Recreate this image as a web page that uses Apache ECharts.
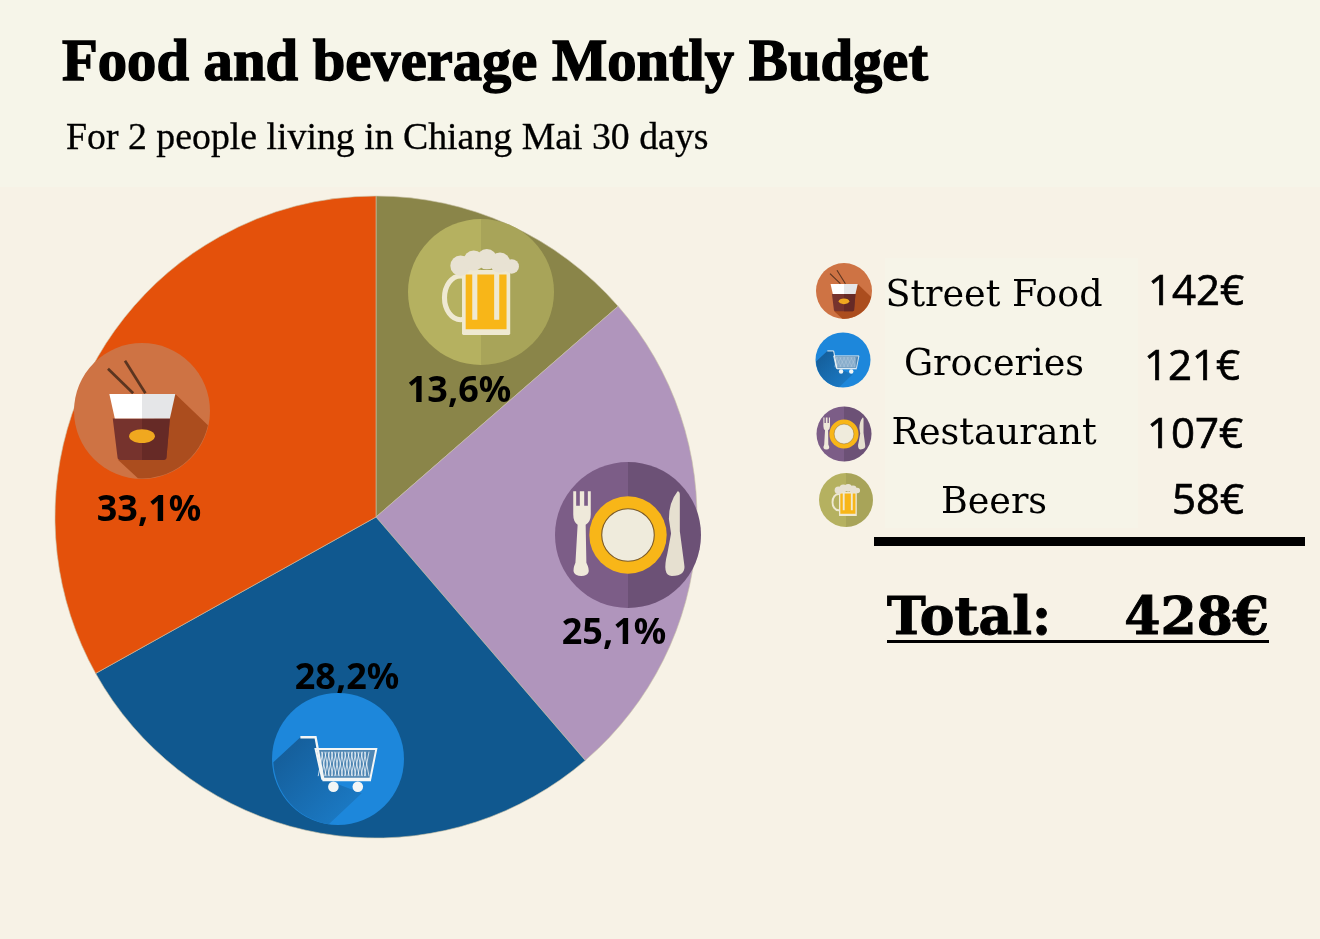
<!DOCTYPE html>
<html><head><meta charset="utf-8">
<style>html,body{margin:0;padding:0;background:#F7F2E6}#c{width:1320px;height:939px}</style>
<script src="https://cdn.jsdelivr.net/npm/echarts@6/dist/echarts.min.js"></script>
</head><body><div id="c"></div>
<script>
const titleText = 'Food and beverage Montly Budget';
const subtitleText = 'For 2 people living in Chiang Mai 30 days';
const categories = ['Beers', 'Restaurant', 'Groceries', 'Street Food'];
const shares = [13.6, 25.1, 28.2, 33.1];
const shareLabels = ['13,6%', '25,1%', '28,2%', '33,1%'];
const sliceColors = ['#8A8549', '#B095BC', '#10588F', '#E4510B'];
const tableNames = ['Street Food', 'Groceries', 'Restaurant', 'Beers'];
const tableAmounts = ['142€', '121€', '107€', '58€'];
const totalName = 'Total:';
const totalAmount = '428€';

const labelAnchors = [[459, 392], [614, 634], [347, 679], [149, 511]];
const bigIcons = [['beer', 481, 292, 73], ['plate', 628, 535, 73], ['cart', 338, 759, 66], ['noodle', 142, 411, 68]];
const smallIcons = [['noodle', 844, 291, 28], ['cart', 843, 360, 27.5], ['plate', 844, 434, 27.5], ['beer', 846, 500, 27]];
const rowY = [297, 366, 435, 504];
const amountY = [293, 368, 436, 502];
const amountRight = [1244, 1240, 1243, 1244];

let shapeCount = 0;
const shapeCache = {};
const p = (d, fill) => {
  if (!shapeCache[d]) {
    shapeCache[d] = 'iconShape' + (shapeCount++);
    echarts.graphic.registerShape(shapeCache[d], echarts.graphic.extendPath(d));
  }
  return {type: shapeCache[d], style: {fill}};
};
const circ = (cx, cy, r, fill, style) => ({type: 'circle', shape: {cx, cy, r}, style: Object.assign({fill}, style || {})});
const half = (o) => p('M0 -100 A100 100 0 0 1 0 100 Z', 'rgba(0,0,0,' + o + ')');

function iconParts(kind) {
  if (kind === 'noodle') return [
    circ(0, 0, 100, '#CE7344'),
    p('M49 -25 L97 21 A100 100 0 0 1 -6 99 L-35 72 Z', '#AB4D1E'),
    {type: 'line', shape: {x1: -50, y1: -62, x2: -13, y2: -26}, style: {stroke: '#5B3520', lineWidth: 4}},
    {type: 'line', shape: {x1: -25, y1: -74, x2: 5, y2: -26}, style: {stroke: '#5B3520', lineWidth: 4}},
    p('M-43 11 L41 11 L36 68 Q36 72 31 72 L-31 72 Q-36 72 -36 68 Z', '#76332D'),
    p('M0 11 L41 11 L36 68 Q36 72 31 72 L0 72 Z', '#662A26'),
    p('M-48 -25 L0 -25 L0 11 L-40 11 Z', '#FFFFFF'),
    p('M0 -25 L49 -25 L41 11 L0 11 Z', '#E5E6E8'),
    {type: 'ellipse', shape: {cx: 0, cy: 37, rx: 19, ry: 10}, style: {fill: '#F0A81F'}}
  ];
  if (kind === 'beer') {
    const foam = [[-28, -36, 14], [-10, -43, 14], [8, -45, 14], [26, -40, 14], [42, -35, 10]];
    return [
      circ(0, 0, 100, '#B5B160'), half(0.07),
      {type: 'ellipse', shape: {cx: -28, cy: 8, rx: 22, ry: 30}, style: {fill: 'none', stroke: '#EFE9D2', lineWidth: 7}},
      {type: 'rect', shape: {x: -26, y: -30, width: 66, height: 89, r: 2}, style: {fill: '#EFE9D2'}},
      {type: 'rect', shape: {x: -21, y: -24, width: 56, height: 75}, style: {fill: '#F8B618'}},
      {type: 'rect', shape: {x: -12, y: -30, width: 7, height: 68}, style: {fill: '#EFE9D2'}},
      {type: 'rect', shape: {x: 18, y: -30, width: 7, height: 68}, style: {fill: '#EFE9D2'}}
    ].concat(foam.map(f => circ(f[0], f[1], f[2], '#E8E2D3')));
  }
  if (kind === 'plate') return [
    circ(0, 0, 100, '#7C5D87'), half(0.12),
    circ(0, 0, 53, '#F8B618'),
    circ(0, 0, 36, '#EFEBDC', {stroke: '#7A5A2A', lineWidth: 1.5}),
    p('M-75 -60 L-71 -60 L-71 -40 L-66 -40 L-66 -60 L-60 -60 L-60 -40 L-55 -40 L-55 -60 L-51 -60 L-51 -28 Q-51 -18 -58 -14 L-57 38 Q-48 56 -64 56 Q-80 56 -72 38 L-69 -14 Q-75 -18 -75 -28 Z', '#EFE9DA'),
    p('M68 -60 Q56 -45 56 -22 L59 -2 L54 25 Q46 56 60 56 Q80 56 77 40 L71 -5 L71 -55 Q71 -60 68 -60 Z', '#E6E0D0')
  ];
  const mesh = [];
  for (let i = -30; i <= 44; i += 5) {
    mesh.push({type: 'line', shape: {x1: i, y1: -11, x2: i + 7, y2: 26}, style: {stroke: '#FFFFFF', lineWidth: 1.1}});
    mesh.push({type: 'line', shape: {x1: i + 7, y1: -11, x2: i, y2: 26}, style: {stroke: '#FFFFFF', lineWidth: 1.1}});
  }
  const shade = p('M-57 -33 L-98 5 A100 100 0 0 0 -14 99 L36 52 L-22 30 L-34 -33 Z', '#1A6DB0');
  shade.style.fill = new echarts.graphic.LinearGradient(0, 0, 1, 1, [{offset: 0, color: '#145A94'}, {offset: 1, color: '#1C7ECB'}]);
  return [
    circ(0, 0, 100, '#1D87DB'),
    shade,
    p('M-34 -15 L58 -15 L49 30 L-24 30 Z', '#4F86B3')
  ].concat(mesh).concat([
    {type: 'polyline', shape: {points: [[-57, -33], [-34, -33], [-22, 32], [50, 32]]}, style: {fill: 'none', stroke: '#F3F6F6', lineWidth: 3.5}},
    {type: 'polygon', shape: {points: [[-34, -15], [58, -15], [49, 30], [-24, 30]]}, style: {fill: 'none', stroke: '#F3F6F6', lineWidth: 3}},
    circ(-7, 42, 8, '#F3F6F6'), circ(30, 42, 8, '#F3F6F6')
  ]);
}
const icon = ([kind, x, y, r]) => ({type: 'group', x, y, scaleX: r / 100, scaleY: r / 100, children: iconParts(kind)});
const txt = (x, y, text, font, align, strokeW) => ({type: 'text', x, y, style: {text, font, fill: '#000', stroke: strokeW ? '#000' : null, lineWidth: strokeW || 0, align, verticalAlign: 'middle'}});

const ROW_FONT = '36.5px "DejaVu Serif", serif';
const AMT_FONT = '42px "Open Sans", sans-serif';
const TOTAL_FONT = 'bold 52px "DejaVu Serif", serif';

const elements = [
  {type: 'rect', z: -10, shape: {x: 0, y: 0, width: 1320, height: 187}, style: {fill: '#F6F5E9'}},
  {type: 'rect', z: -10, shape: {x: 885, y: 258, width: 253, height: 270}, style: {fill: '#F6F4E8'}},
  ...bigIcons.map(icon),
  ...smallIcons.map(icon),
  ...tableNames.map((n, i) => txt(994, rowY[i], n, ROW_FONT, 'center')),
  ...tableAmounts.map((a, i) => txt(amountRight[i], amountY[i], a, AMT_FONT, 'right', 0.7)),
  {type: 'rect', shape: {x: 874, y: 537, width: 431, height: 9}, style: {fill: '#000'}},
  txt(887, 620, totalName, TOTAL_FONT, 'left', 1),
  txt(1269, 620, totalAmount, TOTAL_FONT, 'right', 1),
  {type: 'rect', shape: {x: 887, y: 640, width: 382, height: 3}, style: {fill: '#000'}}
];

const chart = echarts.init(document.getElementById('c'));
chart.setOption({
  animation: false,
  backgroundColor: '#F7F2E6',
  title: [
    {text: titleText, left: 57, top: 30, textStyle: {fontFamily: '"Liberation Serif", serif', fontWeight: 'bold', fontSize: 58.6, color: '#000', textBorderColor: '#000', textBorderWidth: 1.4}},
    {text: subtitleText, left: 61, top: 115, textStyle: {fontFamily: '"Liberation Serif", serif', fontWeight: 'normal', fontSize: 37.8, color: '#000', textBorderColor: '#000', textBorderWidth: 0.3}}
  ],
  graphic: {elements},
  series: [{
    type: 'pie', z: -5, center: [376, 517], radius: [0, 321], startAngle: 90, clockwise: true, silent: true,
    data: categories.map((name, i) => ({name, value: shares[i], itemStyle: {color: sliceColors[i]}})),
    itemStyle: {borderColor: '#C9C2A8', borderWidth: 0.6},
    label: {show: true, position: 'inside', formatter: p => shareLabels[p.dataIndex],
      fontFamily: '"Noto Sans", sans-serif', fontWeight: 'bold', fontSize: 36, color: '#000'},
    labelLine: {show: false},
    labelLayout: p => ({x: labelAnchors[p.dataIndex][0], y: labelAnchors[p.dataIndex][1], align: 'center', verticalAlign: 'middle'})
  }]
});
</script></body></html>
